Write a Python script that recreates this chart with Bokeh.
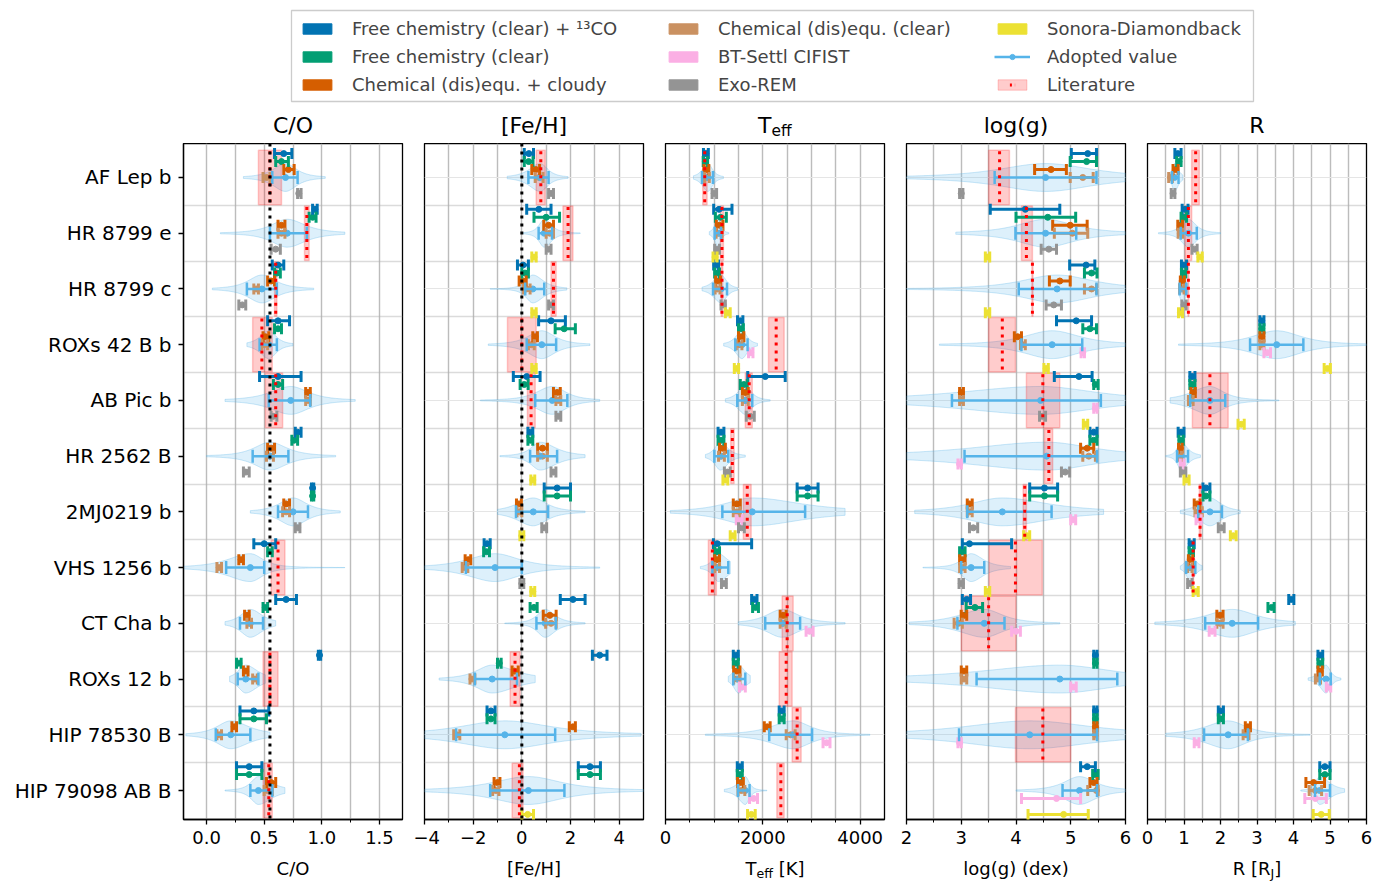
import numpy as np
from bokeh.plotting import figure
from bokeh.models import (Range1d, FixedTicker, ColumnDataSource, Whisker, TeeHead, Span, Label,
                          Legend, LegendItem, Grid)
from bokeh.layouts import column, row
from bokeh.embed import file_html
from bokeh.resources import INLINE

# ------------------------------------------------------------------ data
OBJECTS = ["AF Lep b", "HR 8799 e", "HR 8799 c", "ROXs 42 B b", "AB Pic b", "HR 2562 B",
           "2MJ0219 b", "VHS 1256 b", "CT Cha b", "ROXs 12 b", "HIP 78530 B", "HIP 79098 AB B"]

MODEL_NAMES = ["Free chemistry (clear) + ¹³CO", "Free chemistry (clear)", "Chemical (dis)equ. + cloudy",
               "Chemical (dis)equ. (clear)", "BT-Settl CIFIST", "Exo-REM", "Sonora-Diamondback"]

# each entry: (value, lower, upper) or None
# ---- C/O
CO_FC13 = [(0.67,0.59,0.74),(0.94,0.92,0.96),(0.62,0.57,0.67),(0.62,0.53,0.72),(0.62,0.46,0.82),(0.79,0.77,0.82),(0.92,0.91,0.93),(0.50,0.41,0.60),(0.69,0.60,0.78),(0.98,0.97,0.99),(0.41,0.29,0.54),(0.37,0.26,0.48)]
CO_FC = [(0.65,0.60,0.71),(0.92,0.89,0.95),(0.61,0.59,0.64),(0.62,0.59,0.65),(0.62,0.58,0.66),(0.76,0.74,0.79),(0.92,0.91,0.93),(0.55,0.53,0.57),(0.51,0.49,0.53),(0.28,0.26,0.30),(0.41,0.29,0.52),(0.37,0.26,0.48)]
CO_CDC = [(0.71,0.67,0.76),(0.65,0.62,0.68),(0.56,0.53,0.59),(0.51,0.49,0.54),(0.88,0.86,0.90),(0.56,0.53,0.59),(0.69,0.67,0.72),(0.30,0.28,0.32),(0.35,0.33,0.37),(0.34,0.32,0.36),(0.24,0.22,0.26),(0.56,0.52,0.60)]
CO_CDE = [(0.52,0.49,0.55),(0.65,0.62,0.68),(0.43,0.41,0.45),(0.50,0.48,0.53),(0.88,0.86,0.90),(0.55,0.52,0.58),(0.69,0.66,0.72),(0.11,0.09,0.13),(0.37,0.35,0.39),(0.42,0.40,0.44),(0.11,0.09,0.13),(0.53,0.50,0.57)]
CO_BTS = [None]*12
CO_EXO = [(0.80,0.79,0.82),(0.60,0.56,0.64),(0.31,0.28,0.34),None,(0.58,0.56,0.61),(0.34,0.32,0.37),(0.79,0.77,0.81),None,None,None,None,None]
CO_SON = [None]*12
CO_ADOPT = [(0.685,0.57,0.79),(0.70,0.55,0.87),(0.48,0.35,0.61),(0.54,0.46,0.61),(0.73,0.54,0.90),(0.55,0.40,0.71),(0.75,0.62,0.88),(0.38,0.17,0.50),(0.38,0.29,0.49),(0.34,0.27,0.45),(0.21,0.08,0.38),(0.45,0.38,0.57)]
CO_LIT = [(0.55,0.45,0.65),(0.87,0.85,0.89),(0.60,0.59,0.61),(0.48,0.40,0.57),(0.60,0.51,0.66),None,None,(0.62,0.56,0.68),None,(0.55,0.49,0.62),None,(0.54,0.49,0.57)]
CO_VIOLIN = [(0.32,1.03),(0.12,1.20),(0.05,0.93),(0.35,0.75),(0.16,1.29),(0.0,1.12),(0.38,1.16),(-0.2,1.2),(0.16,0.60),(0.20,0.51),(-0.18,0.55),(0.16,0.68)]
CO_SOLAR = 0.55

# ---- [Fe/H]
FEH_FC13 = [(0.29,0.10,0.48),(0.7,0.2,1.2),(0.05,-0.18,0.27),(1.2,0.69,1.79),(0.2,-0.35,0.75),(0.35,0.25,0.45),(1.45,0.92,2.0),(-1.43,-1.55,-1.30),(2.1,1.58,2.6),(3.2,2.9,3.5),(-1.27,-1.43,-1.10),(2.8,2.32,3.23)]
FEH_FC = [(0.28,0.10,0.46),(1.0,0.5,1.55),(0.13,0.0,0.27),(1.74,1.37,2.2),(0.1,-0.07,0.26),(0.35,0.25,0.45),(1.45,0.92,2.0),(-1.45,-1.57,-1.33),(0.5,0.34,0.63),(-0.93,-1.0,-0.85),(-1.27,-1.43,-1.10),(2.8,2.32,3.23)]
FEH_CDC = [(0.57,0.41,0.73),(1.1,0.9,1.3),(0.04,-0.11,0.18),(0.55,0.45,0.64),(1.45,1.3,1.58),(0.85,0.65,1.05),(-0.12,-0.22,-0.02),(-2.2,-2.33,-2.1),(1.15,0.88,1.41),(-0.3,-0.4,-0.15),(2.1,1.95,2.2),(-1.0,-1.14,-0.9)]
FEH_CDE = [(0.71,0.55,0.87),(1.15,1.0,1.3),(0.2,0.07,0.34),(0.39,0.27,0.51),(1.5,1.4,1.6),(0.85,0.65,1.05),(-0.1,-0.2,0.0),(-2.35,-2.45,-2.22),(1.2,0.98,1.41),(-2.05,-2.13,-1.93),(-2.68,-2.8,-2.55),(-1.07,-1.2,-0.94)]
FEH_BTS = [None]*12
FEH_EXO = [(1.2,1.1,1.3),(1.1,1.0,1.2),(1.2,1.1,1.3),None,(1.5,1.4,1.6),(1.3,1.2,1.4),(0.92,0.82,1.02),(0.0,-0.08,0.08),None,None,None,None]
FEH_SON = [None,(0.5,0.41,0.59),(0.5,0.41,0.59),(0.5,0.41,0.59),None,(0.45,0.37,0.53),(0.0,-0.08,0.08),(0.45,0.37,0.53),None,None,None,(0.24,0.0,0.48)]
FEH_ADOPT = [(0.75,0.27,1.1),(0.92,0.69,1.24),(0.45,0.14,0.92),(0.82,0.2,1.41),(1.25,0.55,1.87),(0.75,0.34,1.45),(0.47,-0.24,1.08),(-1.1,-2.3,0.0),(0.96,0.6,1.4),(-1.22,-1.93,-0.2),(-0.7,-2.7,1.37),(0.27,-1.3,1.75)]
FEH_LIT = [(0.78,0.59,0.96),(1.9,1.69,2.1),(1.3,1.2,1.41),(0.0,-0.59,0.59),(0.38,0.23,0.55),None,None,None,None,(-0.28,-0.48,-0.07),None,(-0.1,-0.4,0.05)]
FEH_VIOLIN = [(-0.6,1.9),(0.05,2.4),(-1.3,1.85),(-1.38,2.8),(-1.7,3.2),(-0.9,2.6),(-1.0,2.6),(-4.0,3.2),(-0.7,2.6),(-3.4,0.55),(-4.0,4.9),(-4.0,5.0)]
FEH_SOLAR = 0.0

# ---- Teff
TEFF_FC13 = [(830,780,880),(1100,990,1366),(1040,990,1090),(1535,1480,1590),(2050,1690,2460),(1140,1080,1200),(2920,2705,3135),(1065,985,1770),(1824,1770,1880),(1445,1393,1496),(2390,2336,2438),(1525,1475,1578)]
TEFF_FC = [(820,775,865),(1130,1025,1250),(1060,1010,1110),(1550,1500,1600),(1610,1537,1680),(1140,1080,1200),(2920,2705,3135),(1060,1010,1110),(1850,1790,1910),(1445,1393,1496),(2390,2336,2438),(1525,1475,1578)]
TEFF_CDC = [(840,790,890),(1110,1045,1180),(1080,1030,1130),(1555,1500,1610),(1640,1580,1700),(1170,1110,1230),(1465,1393,1537),(1060,1010,1110),(2420,2356,2480),(1465,1400,1530),(2090,2030,2150),(1540,1480,1600)]
TEFF_CDE = [(850,800,900),(1100,1040,1160),(1070,1020,1120),(1510,1455,1570),(1640,1580,1700),(1150,1090,1210),(1465,1393,1537),(1060,1010,1110),(2420,2356,2480),(1465,1400,1530),(2570,2480,2664),(1560,1490,1630)]
TEFF_BTS = [None,None,None,(1750,1707,1797),None,None,(1516,1455,1578),None,(2960,2889,3033),(1580,1520,1640),(3310,3237,3380),(1810,1727,1891)]
TEFF_EXO = [(1000,957,1050),(1060,1010,1110),(1185,1141,1230),None,(1740,1660,1824),(1270,1210,1330),(1560,1500,1620),(1200,1150,1250),None,None,None,None]
TEFF_SON = [None,(1020,977,1060),(1280,1230,1330),(1460,1414,1502),None,(1230,1180,1280),(1380,1330,1430),None,None,None,None,(1765,1686,1844)]
TEFF_ADOPT = [(870,750,975),(1080,1010,1140),(1140,977,1264),(1571,1434,1687),(1640,1475,1783),(1127,1004,1290),(1783,1168,2869),(1086,963,1290),(2397,2049,2766),(1496,1393,1640),(2623,2131,3012),(1640,1490,1727)]
TEFF_LIT = [(806,765,855),(1160,1127,1190),(1160,1145,1175),(2274,2117,2438),(1720,1640,1783),(1373,1340,1410),(1680,1600,1760),(963,881,1045),(2500,2397,2623),(2480,2336,2602),(2705,2602,2787),(2370,2288,2438)]
TEFF_VIOLIN = [(575,1190),(900,1300),(750,1480),(1195,1890),(1230,2150),(820,1640),(100,3690),(717,1332),(1496,3690),(1290,1742),(820,4200),(1209,2084)]

# ---- log(g)
LOGG_FC13 = [(5.31,5.01,5.47),(4.17,3.53,4.8),(5.28,4.98,5.44),(5.1,4.74,5.38),(5.15,4.7,5.39),(5.42,5.35,5.48),(4.52,4.25,4.76),(3.15,3.02,3.92),(3.1,3.02,3.17),(5.45,5.42,5.48),(5.45,5.42,5.48),(5.3,5.18,5.45)]
LOGG_FC = [(5.29,4.99,5.47),(4.58,4.0,5.09),(5.38,5.25,5.48),(5.35,5.22,5.47),(5.45,5.42,5.5),(5.42,5.35,5.48),(4.52,4.25,4.76),(3.02,2.97,3.07),(3.25,3.09,3.39),(5.45,5.42,5.48),(5.45,5.42,5.48),(5.45,5.4,5.5)]
LOGG_CDC = [(4.64,4.34,4.92),(4.99,4.67,5.3),(4.8,4.61,4.99),(4.03,3.97,4.1),(3.0,2.97,3.04),(5.3,5.18,5.42),(3.15,3.11,3.2),(3.02,2.97,3.07),(3.05,3.0,3.1),(3.05,3.0,3.1),(5.45,5.42,5.48),(5.42,5.35,5.48)]
LOGG_CDE = [(5.22,4.99,5.41),(5.03,4.7,5.31),(5.38,5.25,5.47),(4.12,4.08,4.17),(3.0,2.97,3.04),(5.33,5.22,5.45),(3.15,3.11,3.2),(3.02,2.97,3.07),(2.95,2.87,3.02),(3.05,3.0,3.1),(5.45,5.42,5.48),(5.47,5.31,5.5)]
LOGG_BTS = [None,None,None,(5.22,5.19,5.25),(5.45,5.42,5.48),(2.97,2.94,3.0),(5.04,5.0,5.09),None,(4.0,3.92,4.08),(5.05,5.0,5.1),(2.97,2.94,3.0),(4.74,4.1,5.18)]
LOGG_EXO = [(3.0,2.97,3.03),(4.6,4.46,4.74),(4.69,4.55,4.83),None,(4.48,4.43,4.54),(4.9,4.83,4.98),(3.22,3.15,3.3),(3.0,2.96,3.04),None,None,None,None]
LOGG_SON = [None,(3.48,3.44,3.52),(3.48,3.44,3.52),(4.55,4.51,4.59),(5.27,5.23,5.31),None,(4.2,4.14,4.25),(3.48,3.44,3.52),None,None,None,(4.87,4.22,5.32)]
LOGG_ADOPT = [(4.54,3.61,5.47),(4.54,3.99,5.1),(4.75,4.05,5.47),(4.66,4.1,5.21),(4.45,2.83,5.55),(4.56,3.06,5.48),(3.75,3.11,4.65),(3.18,3.0,3.42),(3.42,2.93,3.79),(4.8,3.28,5.85),(4.25,2.96,5.48),(5.16,4.85,5.48)]
LOGG_LIT = [(3.7,3.5,3.88),(4.19,4.1,4.3),(4.3,4.29,4.31),(3.75,3.5,3.99),(4.49,4.19,4.8),(4.6,4.52,4.67),(4.16,4.13,4.19),(3.99,3.51,4.48),(3.5,3.0,4.0),None,(4.49,3.99,5.0),None]
LOGG_VIOLIN = [(2.0,6.0),(2.9,6.0),(2.0,6.0),(2.6,6.0),(2.0,6.0),(2.0,6.0),(2.15,5.6),(2.3,3.9),(2.05,4.8),(2.0,6.0),(2.0,6.0),(4.0,6.0)]

# ---- R
R_FC13 = [(0.83,0.75,0.92),(1.03,0.95,1.11),(1.0,0.93,1.07),(3.13,3.08,3.19),(1.22,1.16,1.3),(0.92,0.84,1.0),(1.6,1.52,1.71),(1.2,1.14,1.28),(3.94,3.87,4.01),(4.73,4.67,4.8),(2.0,1.94,2.08),(4.86,4.72,5.0)]
R_FC = [(0.86,0.8,0.92),(0.99,0.92,1.07),(0.99,0.93,1.05),(3.13,3.08,3.19),(1.22,1.16,1.3),(0.92,0.86,0.98),(1.6,1.52,1.71),(1.2,1.14,1.26),(3.4,3.3,3.47),(4.73,4.67,4.8),(2.0,1.94,2.08),(4.86,4.72,5.0)]
R_CDC = [(0.77,0.7,0.84),(0.9,0.83,0.96),(0.95,0.9,1.01),(3.13,3.08,3.19),(1.25,1.19,1.31),(0.9,0.85,0.95),(1.36,1.28,1.44),(1.18,1.12,1.24),(1.99,1.9,2.07),(4.73,4.67,4.79),(2.75,2.68,2.82),(4.55,4.34,4.85)]
R_CDE = [(0.63,0.58,0.68),(0.9,0.84,0.96),(0.94,0.88,1.0),(3.13,3.08,3.19),(1.18,1.12,1.25),(0.88,0.83,0.93),(1.4,1.3,1.5),(1.16,1.1,1.22),(1.99,1.9,2.07),(4.67,4.6,4.74),(2.7,2.62,2.78),(4.6,4.43,4.77)]
R_BTS = [None,None,None,(3.28,3.19,3.37),None,(0.95,0.9,1.0),(1.4,1.33,1.47),None,(1.77,1.69,1.85),(4.96,4.9,5.02),(1.35,1.28,1.41),(4.6,4.31,4.9)]
R_EXO = [(0.7,0.65,0.75),(1.29,1.22,1.36),(1.0,0.94,1.06),None,None,(0.97,0.9,1.05),(2.02,1.94,2.1),(1.16,1.1,1.22),None,None,None,None]
R_SON = [None,(1.44,1.38,1.5),(0.9,0.85,0.96),(4.93,4.84,5.01),(2.57,2.48,2.65),(1.07,1.0,1.14),(2.35,2.27,2.43),(1.32,1.25,1.39),None,None,None,(4.76,4.54,4.98)]
R_ADOPT = [(0.74,0.67,0.85),(1.12,0.91,1.35),(0.96,0.88,1.06),(3.54,2.81,4.27),(1.71,1.17,2.13),(0.92,0.81,1.11),(1.71,1.39,2.04),(1.17,1.06,1.31),(2.32,1.58,3.03),(4.89,4.72,5.02),(2.21,1.55,2.75),(4.72,4.59,5.0)]
R_LIT = [(1.32,1.21,1.42),(1.12,1.03,1.21),(1.12,1.11,1.13),None,(1.71,1.23,2.21),None,(1.44,1.42,1.46),(1.25,1.24,1.26),None,None,None,None]
R_VIOLIN = [(0.6,0.97),(0.3,2.0),(0.85,1.1),(0.85,6.0),(0.62,3.6),(0.5,1.45),(0.9,2.54),(0.9,1.5),(0.2,4.05),(4.4,5.3),(0.5,4.45),(4.2,5.4)]

# axis setup per panel
CO_RANGE, CO_MAJOR, CO_MINOR = (-0.2, 1.7), [0.0, 0.5, 1.0, 1.5], [0.25, 0.75, 1.25]
CO_TICKLABELS = ["0.0", "0.5", "1.0", "1.5"]
FEH_RANGE, FEH_MAJOR, FEH_MINOR = (-4.0, 5.0), [-4, -2, 0, 2, 4], [-3, -1, 1, 3]
FEH_TICKLABELS = ["\u22124", "\u22122", "0", "2", "4"]
TEFF_RANGE, TEFF_MAJOR, TEFF_MINOR = (0, 4500), [0, 2000, 4000], [500, 1000, 1500, 2500, 3000, 3500]
TEFF_TICKLABELS = ["0", "2000", "4000"]
LOGG_RANGE, LOGG_MAJOR, LOGG_MINOR = (2.0, 6.0), [2, 3, 4, 5, 6], [2.5, 3.5, 4.5, 5.5]
LOGG_TICKLABELS = ["2", "3", "4", "5", "6"]
R_RANGE, R_MAJOR, R_MINOR = (0.0, 6.0), [0, 1, 2, 3, 4, 5, 6], [0.5, 1.5, 2.5, 3.5, 4.5, 5.5]
R_TICKLABELS = ["0", "1", "2", "3", "4", "5", "6"]

# ------------------------------------------------------------------ style
FONT = "DejaVu Sans"
MODEL_COLORS = ["#0173B2", "#029E73", "#D55E00", "#CA9161", "#FBAFE4", "#949494", "#ECE133"]
ADOPT_C = "#56B4E9"
GRID_C = "#b0b0b0"
OFFSETS = [(k - 3) / 7.0 for k in range(7)]

Y_TOP, Y_BOT = -0.61, 11.52
FRAME_W, FRAME_H = 219, 676
TITLE_H, XLAB_H = 35, 26
PANEL_BOTTOM = 36

# DejaVu Sans advance widths (em) for composed labels
EM = {"T": 0.611, "e": 0.615, "f": 0.352, "[": 0.390, "K": 0.656, "]": 0.390,
      "R": 0.695, " ": 0.318, "J": 0.295}


def text_w(s, size):
    return sum(EM[c] for c in s) * size


def violin_poly(i, vlo, vhi, m, lo, hi, xr):
    vlo = max(vlo, xr[0])
    vhi = min(vhi, xr[1])
    xs = np.linspace(vlo, vhi, 120)
    slo = max(m - lo, 1e-9)
    shi = max(hi - m, 1e-9)
    z = np.where(xs < m, (m - xs) / slo, (xs - m) / shi)
    w = 0.25 * (1 + z ** 2 / 2.0) ** -1.5
    px = np.concatenate([xs, xs[::-1]])
    py = np.concatenate([i - w, (i + w)[::-1]])
    return list(px), list(py)


def text_strip(xr, height, first, parts, mid_px, plain=None, size=18):
    """A small axis-less figure that carries a title or an axis label (text centred at mid_px from bottom)."""
    s = figure(x_range=Range1d(*xr), y_range=Range1d(0, height), frame_width=FRAME_W, frame_height=height,
               min_border_left=183 if first else 11, min_border_right=11, min_border_top=0, min_border_bottom=0,
               x_axis_location=None, y_axis_location=None, output_backend="svg", toolbar_location=None)
    s.outline_line_color = None
    s.grid.visible = False
    s.background_fill_color = "white"
    s.border_fill_color = "white"
    xc = 0.5 * (xr[0] + xr[1])
    if plain is not None:
        s.add_layout(Label(x=xc, y=mid_px, text=plain, text_font=FONT, text_font_size=f"{size}px",
                           text_align="center", text_baseline="middle", text_color="black"))
        return s
    scale = (xr[1] - xr[0]) / FRAME_W
    total = sum(text_w(t, sz) for t, sz, _ in parts)
    main = max(sz for _, sz, _ in parts)
    cur = -total / 2.0
    for t, sz, dy in parts:
        shift = 0.3 * (main - sz) + dy
        s.add_layout(Label(x=xc + cur * scale, y=mid_px - shift, text=t, text_font=FONT,
                           text_font_size=f"{sz}px", text_align="left", text_baseline="middle",
                           text_color="black"))
        cur += text_w(t, sz)
    return s


def make_panel(xr, major, minor, ticklabels, models, adopt, lit, violin,
               first=False, refline=None):
    p = figure(x_range=Range1d(*xr), y_range=Range1d(Y_BOT, Y_TOP),
               frame_width=FRAME_W, frame_height=FRAME_H,
               min_border_left=183 if first else 11, min_border_right=11,
               min_border_top=0, min_border_bottom=PANEL_BOTTOM,
               output_backend="svg", toolbar_location=None,
               y_axis_location="left" if first else None)
    p.outline_line_color = "black"
    p.outline_line_width = 1.3
    p.outline_line_alpha = 1.0
    p.background_fill_color = "white"
    p.border_fill_color = "white"

    ax = p.xaxis[0]
    ax.ticker = FixedTicker(ticks=major, minor_ticks=minor)
    ax.major_label_overrides = {m: l for m, l in zip(major, ticklabels)}
    ax.major_label_text_font = FONT
    ax.major_label_text_font_size = "18px"
    ax.major_label_text_color = "black"
    ax.major_label_standoff = 6
    ax.major_tick_out = 5
    ax.major_tick_in = 0
    ax.minor_tick_out = 3
    ax.minor_tick_in = 0
    ax.axis_line_color = "black"
    ax.axis_line_width = 1.3
    ax.major_tick_line_width = 1.3
    ax.minor_tick_line_width = 1.0
    ax.major_tick_line_color = "black"
    ax.minor_tick_line_color = "black"

    p.xgrid.ticker = FixedTicker(ticks=sorted(list(major) + list(minor)))
    p.xgrid.grid_line_color = GRID_C
    p.xgrid.grid_line_width = 1.4
    p.xgrid.grid_line_alpha = 0.85

    yboundaries = [i + 0.5 for i in range(len(OBJECTS) - 1)]
    if first:
        yax = p.yaxis[0]
        yax.ticker = FixedTicker(ticks=list(range(len(OBJECTS))), minor_ticks=[])
        yax.major_label_overrides = {i: n for i, n in enumerate(OBJECTS)}
        yax.major_label_text_font = FONT
        yax.major_label_text_font_size = "20px"
        yax.major_label_text_color = "black"
        yax.major_label_standoff = 7
        yax.major_tick_out = 5
        yax.major_tick_in = 0
        yax.major_tick_line_width = 1.3
        yax.axis_line_width = 1.3
        p.ygrid.ticker = FixedTicker(ticks=yboundaries)
        p.ygrid.grid_line_color = GRID_C
        p.ygrid.grid_line_width = 1.4
        p.ygrid.grid_line_alpha = 0.45
    else:
        p.add_layout(Grid(dimension=1, ticker=FixedTicker(ticks=yboundaries),
                          grid_line_color=GRID_C, grid_line_width=1.4, grid_line_alpha=0.45))

    # violins
    vxs, vys = [], []
    for i, (vr, ad) in enumerate(zip(violin, adopt)):
        a, b = violin_poly(i, vr[0], vr[1], ad[0], ad[1], ad[2], xr)
        vxs.append(a)
        vys.append(b)
    p.patches(xs=vxs, ys=vys, fill_color=ADOPT_C, fill_alpha=0.2,
              line_color=ADOPT_C, line_alpha=0.3, line_width=1)

    # literature boxes
    li = [(i, d) for i, d in enumerate(lit) if d is not None]
    lsrc = ColumnDataSource(dict(
        v=[d[0] for _, d in li], lo=[d[1] for _, d in li], hi=[d[2] for _, d in li],
        top=[i - 0.49 for i, _ in li], bottom=[i + 0.49 for i, _ in li],
        y0=[i - 0.47 for i, _ in li], y1=[i + 0.47 for i, _ in li]))
    p.quad(left="lo", right="hi", top="top", bottom="bottom", source=lsrc,
           fill_color="red", fill_alpha=0.2, line_color="red", line_alpha=0.2, line_width=1.5)

    # model error bars
    for k, data in enumerate(models):
        color = MODEL_COLORS[k]
        ent = [(i, d) for i, d in enumerate(data) if d is not None]
        if not ent:
            continue
        src = ColumnDataSource(dict(y=[i + OFFSETS[k] for i, _ in ent], v=[d[0] for _, d in ent],
                                    lo=[d[1] for _, d in ent], hi=[d[2] for _, d in ent]))
        p.add_layout(Whisker(source=src, base="y", lower="lo", upper="hi", dimension="width",
                             line_color=color, line_width=3, level="annotation",
                             lower_head=TeeHead(size=11, line_color=color, line_width=3),
                             upper_head=TeeHead(size=11, line_color=color, line_width=3)))
        p.scatter(x="v", y="y", source=src, size=6, color=color, level="annotation")

    # adopted value
    asrc = ColumnDataSource(dict(y=list(range(len(adopt))), v=[d[0] for d in adopt],
                                 lo=[d[1] for d in adopt], hi=[d[2] for d in adopt]))
    p.add_layout(Whisker(source=asrc, base="y", lower="lo", upper="hi", dimension="width",
                         line_color=ADOPT_C, line_width=2.5, level="annotation",
                         lower_head=TeeHead(size=13, line_color=ADOPT_C, line_width=2.5),
                         upper_head=TeeHead(size=13, line_color=ADOPT_C, line_width=2.5)))
    p.scatter(x="v", y="y", source=asrc, size=6, color=ADOPT_C, level="annotation")

    # literature value lines
    p.segment(x0="v", x1="v", y0="y0", y1="y1", source=lsrc, line_color="red",
              line_width=3, line_dash="3 5", level="overlay")

    if refline is not None:
        p.add_layout(Span(location=refline, dimension="height", line_color="black",
                          line_width=3, line_dash="3 5", level="overlay"))
    return p


def panel_column(xr, major, minor, ticklabels, models, adopt, lit, violin, title=None, title_parts=None,
                 xlabel=None, xlabel_parts=None, first=False, refline=None):
    t = text_strip(xr, TITLE_H, first, title_parts, 18, plain=title, size=22)
    p = make_panel(xr, major, minor, ticklabels, models, adopt, lit, violin, first=first, refline=refline)
    b = text_strip(xr, XLAB_H, first, xlabel_parts, 13, plain=xlabel, size=18)
    return column(t, p, b, spacing=0)


c1 = panel_column(CO_RANGE, CO_MAJOR, CO_MINOR, CO_TICKLABELS,
                  [CO_FC13, CO_FC, CO_CDC, CO_CDE, CO_BTS, CO_EXO, CO_SON],
                  CO_ADOPT, CO_LIT, CO_VIOLIN, title="C/O", xlabel="C/O", first=True, refline=CO_SOLAR)
c2 = panel_column(FEH_RANGE, FEH_MAJOR, FEH_MINOR, FEH_TICKLABELS,
                  [FEH_FC13, FEH_FC, FEH_CDC, FEH_CDE, FEH_BTS, FEH_EXO, FEH_SON],
                  FEH_ADOPT, FEH_LIT, FEH_VIOLIN, title="[Fe/H]", xlabel="[Fe/H]", refline=FEH_SOLAR)
c3 = panel_column(TEFF_RANGE, TEFF_MAJOR, TEFF_MINOR, TEFF_TICKLABELS,
                  [TEFF_FC13, TEFF_FC, TEFF_CDC, TEFF_CDE, TEFF_BTS, TEFF_EXO, TEFF_SON],
                  TEFF_ADOPT, TEFF_LIT, TEFF_VIOLIN,
                  title_parts=[("T", 22, 0), ("eff", 15.4, 4)],
                  xlabel_parts=[("T", 18, 0), ("eff", 12.6, 3), (" ", 18, 0), ("[K]", 18, 0)])
c4 = panel_column(LOGG_RANGE, LOGG_MAJOR, LOGG_MINOR, LOGG_TICKLABELS,
                  [LOGG_FC13, LOGG_FC, LOGG_CDC, LOGG_CDE, LOGG_BTS, LOGG_EXO, LOGG_SON],
                  LOGG_ADOPT, LOGG_LIT, LOGG_VIOLIN, title="log(g)", xlabel="log(g) (dex)")
c5 = panel_column(R_RANGE, R_MAJOR, R_MINOR, R_TICKLABELS,
                  [R_FC13, R_FC, R_CDC, R_CDE, R_BTS, R_EXO, R_SON],
                  R_ADOPT, R_LIT, R_VIOLIN, title="R",
                  xlabel_parts=[("R [R", 18, 0), ("J", 12.6, 3), ("]", 18, 0)])

# ------------------------------------------------------------------ legend
lf = figure(frame_width=962, frame_height=91, min_border_left=291, min_border_right=136,
            min_border_top=10, min_border_bottom=7, x_range=Range1d(0, 1), y_range=Range1d(0, 1),
            x_axis_location=None, y_axis_location=None, output_backend="svg", toolbar_location=None)
lf.outline_line_color = "#cccccc"
lf.outline_line_width = 1.3
lf.border_fill_color = "white"
lf.grid.visible = False

# legend proxies: one point each, placed outside the visible range so only the legend shows them
HIDE = [-5.0]
patch_r = [lf.quad(left=HIDE, right=[-4.0], top=HIDE, bottom=[-4.0], fill_color=c, line_color=c)
           for c in MODEL_COLORS]
r_ad_line = lf.line(x=[-5.0, -4.0], y=[-5.0, -5.0], line_color=ADOPT_C, line_width=2.5)
r_ad_dot = lf.scatter(x=HIDE, y=HIDE, size=7, color=ADOPT_C)
r_lit_box = lf.quad(left=HIDE, right=[-4.0], top=HIDE, bottom=[-4.0], fill_color="red", fill_alpha=0.2,
                    line_color="red", line_alpha=0.2)
r_lit_line = lf.scatter(x=HIDE, y=HIDE, marker="dash", angle=np.pi / 2, size=14, line_color="red",
                        line_width=3, line_dash="2 3")

col_items = [
    [LegendItem(label=MODEL_NAMES[0], renderers=[patch_r[0]]),
     LegendItem(label=MODEL_NAMES[1], renderers=[patch_r[1]]),
     LegendItem(label=MODEL_NAMES[2], renderers=[patch_r[2]])],
    [LegendItem(label=MODEL_NAMES[3], renderers=[patch_r[3]]),
     LegendItem(label=MODEL_NAMES[4], renderers=[patch_r[4]]),
     LegendItem(label=MODEL_NAMES[5], renderers=[patch_r[5]])],
    [LegendItem(label=MODEL_NAMES[6], renderers=[patch_r[6]]),
     LegendItem(label="Adopted value", renderers=[r_ad_line, r_ad_dot]),
     LegendItem(label="Literature", renderers=[r_lit_box, r_lit_line])],
]
for xoff, items in zip([8, 374, 703], col_items):
    lf.add_layout(Legend(items=items, location=(xoff, 6), orientation="vertical",
                         label_text_font=FONT, label_text_font_size="18px",
                         glyph_width=36, glyph_height=13, label_standoff=17, spacing=7,
                         padding=0, margin=0, border_line_alpha=0, background_fill_alpha=0))

layout = column(lf, row(c1, c2, c3, c4, c5, spacing=0), spacing=0)
open("out.html", "w").write(file_html(layout, INLINE))
